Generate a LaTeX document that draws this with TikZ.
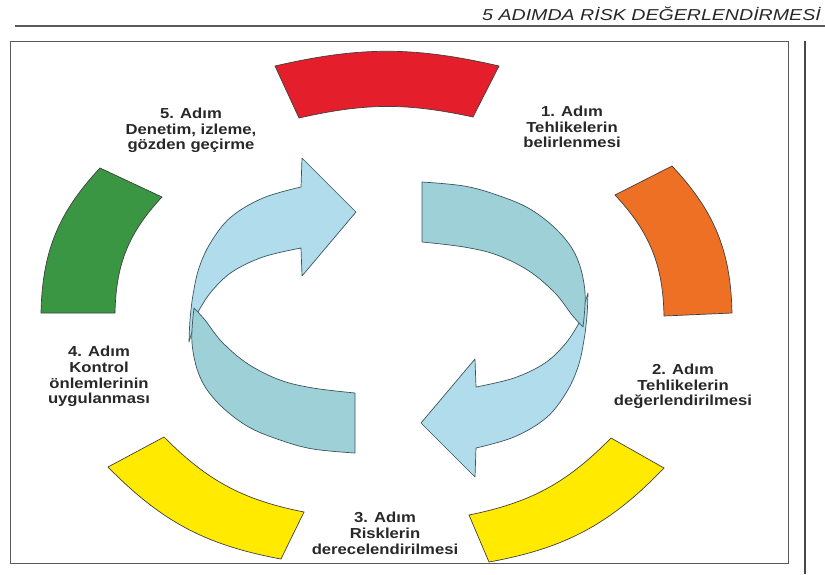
\documentclass[tikz,border=0pt]{standalone}
\usepackage{fontspec}
\usepackage{graphicx}
\newfontfamily\hdrfont[FakeStretch=1.24]{Liberation Sans}
\newfontfamily\labfont[FakeStretch=1.15]{Liberation Sans}
\definecolor{segred}{RGB}{228,30,43}
\definecolor{segorange}{RGB}{238,112,36}
\definecolor{seggreen}{RGB}{58,150,66}
\definecolor{segyellow}{RGB}{255,234,0}
\definecolor{headblue}{RGB}{176,220,236}
\definecolor{tailteal}{RGB}{158,208,216}
\definecolor{arrline}{RGB}{60,84,92}
\definecolor{txtgray}{RGB}{40,40,40}
\definecolor{rulegray}{RGB}{90,90,90}
\tikzset{
  segshape/.style={draw=black!75, line width=0.7pt},
  headband/.style={fill=headblue, draw=arrline, line width=0.7pt, line join=round},
  tailband/.style={fill=tailteal, draw=arrline, line width=0.7pt, line join=round},
  steplabel/.style={font=\labfont\bfseries\fontsize{14.5}{15.7}\selectfont, text=txtgray, align=center, inner sep=0pt},
}
\begin{document}
\begin{tikzpicture}[x=1pt,y=-1pt]
\useasboundingbox (0,0) rectangle (825,574);
% header
\node[anchor=base east, inner sep=0pt, text=txtgray, font=\hdrfont\itshape\fontsize{15.8}{18}\selectfont] (header) at (821,20.5) {5 ADIMDA RİSK DEĞERLENDİRMESİ};
\draw[rulegray, line width=1.2pt] (15,26) -- (825,26);
\draw[rulegray, line width=1pt] (10,41) rectangle (788,563);
\draw[rulegray!80!black, line width=1.5pt] (805,41) -- (805,574);
% ring segments
\filldraw[segshape, fill=segred] (275,66) to[bend left=13] (499,66) -- (473,117) to[bend right=12.5] (299,118) -- cycle;
\filldraw[segshape, fill=segorange] (672,166) to[bend left=21] (732,313) -- (664,316) to[bend right=21] (615,195) -- cycle;
\filldraw[segshape, fill=seggreen] (100,168) to[bend right=21] (41,313) -- (115,313) to[bend left=21] (162,197) -- cycle;
\filldraw[segshape, fill=segyellow] (664,468) to[bend left=18] (489,562) -- (469,515) to[bend right=17] (611,438) -- cycle;
\filldraw[segshape, fill=segyellow] (108,467) to[bend right=17.5] (281,559) -- (304,512) to[bend left=17] (164,437) -- cycle;
% circular arrows (left one, then the right one as its point reflection)
\foreach \ang in {0,180}{
\begin{scope}[rotate around={\ang:(388.5,317.5)}]
\filldraw[headband] plot[smooth, tension=0.6] coordinates {(189,342) (190,320) (193,295) (199,268) (211,242) (231,217) (263,198) (301,187)}
  -- (302,158) -- (356,212) -- (302,276) -- (301,248)
  -- plot[smooth, tension=0.6] coordinates {(301,248) (263,257) (232,272) (211,292) (198,312)} -- cycle;
\filldraw[tailband] plot[smooth, tension=0.6] coordinates {(194,308) (192,343) (200,377) (218,403) (247,426) (280,440) (313,449) (355,453)}
  -- (355,393)
  -- plot[smooth, tension=0.6] coordinates {(355,393) (313,388) (280,380) (248,364) (222,342) (205,320) (194,308)} -- cycle;
\end{scope}
}
% labels
\node[steplabel] (step5) at (191,130.5) {5. Adım\\Denetim, izleme,\\gözden geçirme};
\node[steplabel] (step1) at (572,127) {1. Adım\\Tehlikelerin\\belirlenmesi};
\node[steplabel] (step2) at (683,386.5) {2. Adım\\Tehlikelerin\\değerlendirilmesi};
\node[steplabel] (step3) at (385,533.5) {3. Adım\\Risklerin\\derecelendirilmesi};
\node[steplabel] (step4) at (99,376.5) {4. Adım\\Kontrol\\önlemlerinin\\uygulanması};
\end{tikzpicture}
\end{document}
